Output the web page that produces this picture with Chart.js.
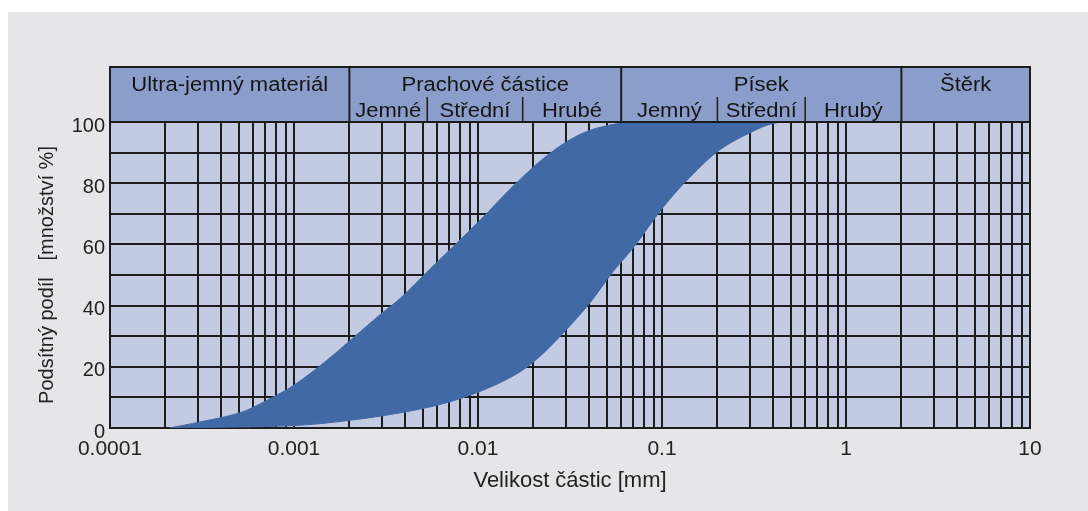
<!DOCTYPE html>
<html>
<head>
<meta charset="utf-8">
<script src="https://cdn.jsdelivr.net/npm/chart.js@4.4.1/dist/chart.umd.min.js"></script>
<style>
  html, body { margin: 0; padding: 0; background: #ffffff; }
  #wrap { width: 1088px; height: 511px; }
</style>
</head>
<body>
<div id="wrap"><canvas id="zrnitost"></canvas></div>
<script>
// horni hranice pasma (jemnejsi zeminy)
const horniVelikost = [0.00021, 0.00031, 0.00051, 0.00071, 0.001, 0.0015, 0.0021, 0.003, 0.0038, 0.0055, 0.0103, 0.0155, 0.0237, 0.036, 0.054, 0.076, 10];
const horniPodil = [0, 2, 5, 9, 14, 22, 29.5, 37.5, 42.5, 52, 68, 79, 89, 96, 99.2, 100, 100];

// dolni hranice pasma (hrubsi zeminy)
const dolniVelikost = [0.00021, 0.001, 0.002, 0.0038, 0.0065, 0.0103, 0.0155, 0.0204, 0.029, 0.0407, 0.054, 0.07, 0.101, 0.142, 0.207, 0.313, 0.4, 0.5, 10];
const dolniPodil = [0, 0.8, 2.5, 5, 8, 12, 17, 22, 31, 41, 51, 59, 72, 82, 91, 97, 99.5, 100, 100];

// popisky os
const xPopisky = ['0.0001', '0.001', '0.01', '0.1', '1', '10'];
const xDekady = [0.0001, 0.001, 0.01, 0.1, 1, 10];
const mrizkaKroky = [1, 2, 3, 4, 5, 6, 7, 8, 9];
const yPopisky = [0, 20, 40, 60, 80, 100];

// tridy zrnitosti v zahlavi
const tridy = ['Ultra-jemný materiál', 'Prachové částice', 'Písek', 'Štěrk'];
const tridyHranice = [0.0001, 0.002, 0.06, 2, 10];
const podtridy = ['Jemné', 'Střední', 'Hrubé', 'Jemný', 'Střední', 'Hrubý'];
const podtridyHranice = [[0.002, 0.0053], [0.0053, 0.0175], [0.0175, 0.06], [0.06, 0.2], [0.2, 0.6], [0.6, 2]];

const barvaMrizky = '#1c1c1c';
const barvaPasma = '#4169a6';

const pozadi = {
  id: 'pozadi',
  beforeDraw(chart) {
    const {ctx, chartArea: a} = chart;
    ctx.save();
    ctx.fillStyle = '#e6e6e8';
    ctx.fillRect(8, 12, chart.width - 8, chart.height - 12);
    ctx.fillStyle = '#c3cbe3';
    ctx.fillRect(a.left, a.top, a.right - a.left, a.bottom - a.top);
    ctx.restore();
  }
};

function napis(ctx, text, x, y) {
  ctx.save();
  ctx.translate(x, y);
  ctx.scale(1.1, 1);
  ctx.fillText(text, 0, 0);
  ctx.restore();
}

const zahlavi = {
  id: 'zahlavi',
  afterDraw(chart) {
    const {ctx, chartArea: a} = chart;
    const sx = chart.scales.x;
    const top = 67, mid = 97, bottom = a.top;
    ctx.save();
    ctx.fillStyle = '#8b9dca';
    ctx.fillRect(a.left, top, a.right - a.left, bottom - top);
    ctx.strokeStyle = barvaMrizky;
    ctx.lineWidth = 2;
    ctx.strokeRect(a.left, top, a.right - a.left, bottom - top);
    ctx.beginPath();
    for (let i = 1; i < tridyHranice.length - 1; i++) {
      const x = sx.getPixelForValue(tridyHranice[i]);
      ctx.moveTo(x, top);
      ctx.lineTo(x, bottom);
    }
    ctx.stroke();
    ctx.lineWidth = 1.5;
    ctx.beginPath();
    [1, 2, 4, 5].forEach(i => {
      const x = sx.getPixelForValue(podtridyHranice[i][0]);
      ctx.moveTo(x, mid);
      ctx.lineTo(x, bottom);
    });
    ctx.stroke();

    ctx.fillStyle = '#151515';
    ctx.textAlign = 'center';
    ctx.textBaseline = 'middle';
    ctx.font = '20px "Liberation Sans", Arial, sans-serif';
    tridy.forEach((t, i) => {
      const x1 = sx.getPixelForValue(tridyHranice[i]);
      const x2 = sx.getPixelForValue(tridyHranice[i + 1]);
      napis(ctx, t, (x1 + x2) / 2, 85);
    });
    podtridy.forEach((t, i) => {
      const x1 = sx.getPixelForValue(podtridyHranice[i][0]);
      const x2 = sx.getPixelForValue(podtridyHranice[i][1]);
      napis(ctx, t, (x1 + x2) / 2, 111);
    });
    ctx.restore();
  }
};

const ctx = document.getElementById('zrnitost');

new Chart(ctx, {
  type: 'line',
  data: {
    datasets: [{
      label: 'horni',
      data: horniVelikost.map((v, i) => ({x: v, y: horniPodil[i]})),
      borderColor: barvaPasma,
      borderWidth: 1,
      backgroundColor: barvaPasma,
      pointRadius: 0,
      tension: 0.35,
      fill: '+1'
    }, {
      label: 'dolni',
      data: dolniVelikost.map((v, i) => ({x: v, y: dolniPodil[i]})),
      borderColor: barvaPasma,
      borderWidth: 1,
      pointRadius: 0,
      tension: 0.35,
      fill: false
    }]
  },
  options: {
    responsive: true,
    maintainAspectRatio: false,
    animation: false,
    layout: {
      padding: {top: 122, right: 58, left: 0, bottom: 0}
    },
    plugins: {
      legend: {display: false},
      tooltip: {enabled: false}
    },
    scales: {
      x: {
        type: 'logarithmic',
        min: 0.0001,
        max: 10,
        z: 1,
        afterBuildTicks(scale) {
          const t = [];
          xDekady.forEach(d => mrizkaKroky.forEach(k => {
            if (d * k <= 10 + 1e-9) t.push({value: d * k});
          }));
          scale.ticks = t;
        },
        afterFit(scale) { scale.height = 83; },
        grid: {color: barvaMrizky, lineWidth: 2, drawTicks: false},
        border: {color: barvaMrizky, width: 2},
        ticks: {
          autoSkip: false,
          maxRotation: 0,
          padding: 9,
          color: '#222',
          font: {family: '"Liberation Sans", Arial, sans-serif', size: 21},
          callback(value) {
            const i = xDekady.findIndex(d => Math.abs(Math.log10(d) - Math.log10(value)) < 1e-6);
            return i >= 0 ? xPopisky[i] : '';
          }
        },
        title: {
          display: true,
          text: 'Velikost částic [mm]',
          color: '#222',
          font: {family: '"Liberation Sans", Arial, sans-serif', size: 22},
          padding: {top: 0, bottom: 17}
        }
      },
      y: {
        min: 0,
        max: 100,
        z: 1,
        afterFit(scale) { scale.width = 110; },
        grid: {color: barvaMrizky, lineWidth: 2, drawTicks: false},
        border: {color: barvaMrizky, width: 2},
        ticks: {
          stepSize: 10,
          padding: 5,
          labelOffset: 4,
          color: '#222',
          font: {family: '"Liberation Sans", Arial, sans-serif', size: 20},
          callback: value => yPopisky.includes(value) ? String(value) : ''
        },
        title: {
          display: true,
          text: 'Podsítný podíl   [množství %]',
          color: '#222',
          font: {family: '"Liberation Sans", Arial, sans-serif', size: 20},
          padding: {top: 35, bottom: 0}
        }
      }
    }
  },
  plugins: [pozadi, zahlavi]
});
</script>
</body>
</html>
